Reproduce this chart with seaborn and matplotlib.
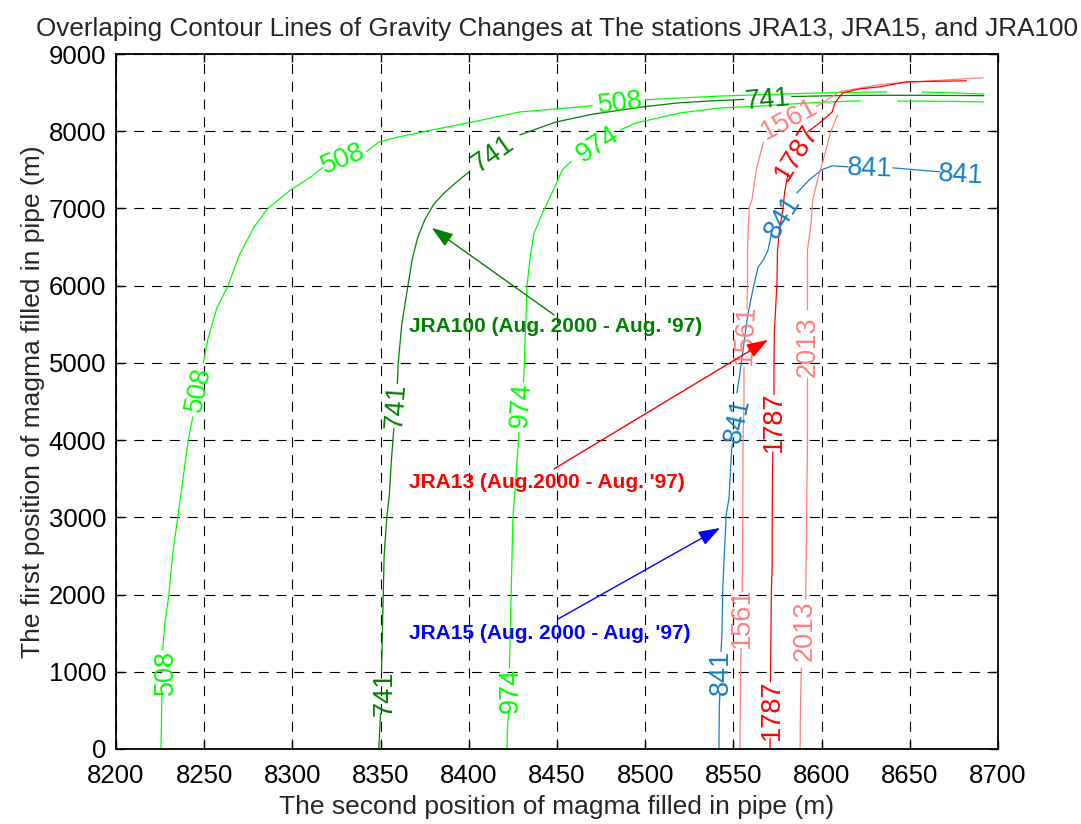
import numpy as np
import pandas as pd
import matplotlib
matplotlib.use("Agg")
import matplotlib.pyplot as plt
import seaborn as sns

nan = np.nan

# Contour paths (second position x, first position y); NaN breaks the line where a level label sits
x_508 = [8225.5, 8225.8, 8226.0, nan, 8226.5, 8227.5, 8230, 8232, 8235, 8238, 8241, 8243.5, nan,
         8249.5, 8252, 8257, 8263.5, 8270, 8278, 8286, 8299, 8310, 8317, nan,
         8342, 8349, 8361, 8380, 8400, 8429, 8450, 8470, nan, 8500, 8542, 8600, 8637, nan, 8657, 8675, 8692]
y_508 = [0, 400, 700, nan, 1280, 1600, 2000, 2500, 3000, 3500, 4000, 4300, nan,
         5000, 5300, 5700, 6000, 6400, 6750, 7000, 7240, 7400, 7526, nan,
         7735, 7860, 7930, 8020, 8110, 8250, 8290, 8330, nan, 8407, 8455, 8497, 8510, nan, 8508, 8495, 8480]

x_741 = [8349.0, 8349.5, 8350.0, nan, 8350.5, 8351, 8351.5, 8352, 8353.5, 8355, 8356, 8357, 8357.5, nan,
         8359.5, 8360, 8362, 8365.5, 8368, 8371, 8375, 8380, 8386, 8393, 8400, nan,
         8429, 8449.5, 8470, 8499, 8520, 8542, 8556, nan, 8583, 8620, 8660, 8692]
y_741 = [0, 250, 460, nan, 1000, 1500, 2000, 2500, 3000, 3300, 3700, 4000, 4150, nan,
         4730, 5000, 5500, 6000, 6350, 6620, 6850, 7050, 7200, 7340, 7470, nan,
         7953, 8120, 8220, 8316, 8370, 8398, 8412, nan, 8450, 8465, 8465, 8460]

x_974 = [8421.6, 8422.0, 8422.5, nan, 8423, 8424, 8425, 8426, 8427, 8428.5, nan,
         8431, 8431.5, 8433, 8435, 8437, 8441, 8444, 8448, 8453, 8458, nan,
         8486, 8495, 8520, 8542, 8560, 8580, 8600, 8622, nan, 8643, 8670, 8692]
y_974 = [0, 300, 480, nan, 1050, 2000, 3000, 3300, 3600, 4100, nan,
         4750, 5000, 6000, 6400, 6680, 6900, 7050, 7240, 7500, 7610, nan,
         8018, 8109, 8238, 8300, 8320, 8348, 8376, 8394, nan, 8390, 8388, 8380]

x_841 = [8541.8, 8542.0, 8542.3, nan, 8543, 8543.5, 8544, 8545, 8546, 8547.5, 8549, 8549.5, nan,
         8552, 8553.7, 8555.5, 8558, 8561, 8564, 8567, 8569.6, 8572, nan,
         8586, 8593, 8600, 8606, 8615, nan, 8640.5, 8667]
y_841 = [0, 500, 700, nan, 1260, 1500, 2085, 2600, 3050, 3240, 3870, 3950, nan,
         4610, 4870, 5170, 5600, 5945, 6240, 6335, 6460, 6720, nan,
         7200, 7370, 7500, 7552, 7539, nan, 7526, 7474]

x_1561 = [8553.7, 8554.0, 8554.3, nan, 8555, 8555.3, 8555.5, 8556, 8556, nan,
          8557.7, 8558, 8558, 8558.5, 8559, 8560.5, 8563, 8567, nan,
          8597, 8603, 8610, 8628.6, 8637, 8660, 8691.5]
y_1561 = [0, 800, 1300, nan, 2030, 3000, 4000, 4500, 4950, nan,
          5700, 6000, 6460, 6800, 7020, 7110, 7500, 7860, nan,
          8316, 8407, 8510, 8588, 8614, 8650, 8692]

x_1787 = [8570.7, 8570.8, nan, 8571, 8571.5, 8572, 8572, 8572.3, nan,
          8573, 8573, 8573.2, 8574.7, 8575, 8576, 8578, 8579, 8581, nan,
          8592, 8599, 8606, 8607.6, 8612, 8622, 8633, 8648, 8682]
y_1787 = [0, 140, nan, 870, 2000, 2400, 3000, 3850, nan,
          4590, 5000, 5390, 6036, 6460, 6700, 6980, 7200, 7460, nan,
          7990, 8110, 8250, 8370, 8497, 8550, 8575, 8640, 8653]

x_2013 = [8587.8, 8588.0, 8588.5, nan, 8591, 8591.5, 8592, 8592, nan,
          8592, 8592, 8594, 8595, 8598, 8601, 8605, 8609]
y_2013 = [0, 500, 1050, nan, 1940, 3000, 4000, 4800, nan,
          5690, 6460, 6800, 7110, 7400, 7630, 7980, 8210]

# Level label placements: (x, y, rotation in degrees)
lab_508 = [(8228.3, 997, 90), (8247, 4650, 78), (8329, 7640, 22), (8486, 8355, 7)]
lab_741 = [(8352, 725, 90), (8358.7, 4443, 86), (8414, 7700, 35), (8569.6, 8410, 5)]
lab_974 = [(8424, 764, 90), (8430, 4456, 86), (8473, 7830, 33)]
lab_841 = [(8543, 997, 90), (8552.6, 4249, 78), (8578, 6891, 58), (8627.4, 7510, -2), (8679, 7430, -3)]
lab_1561 = [(8555, 1697, 90), (8556.6, 5363, 87), (8582, 8150, 28)]
lab_1787 = [(8572, 505, 90), (8573, 4236, 90), (8586, 7725, 58)]
lab_2013 = [(8590.6, 1528, 90), (8592.3, 5207, 90)]

levels = ["508", "741", "974", "841", "1561", "1787", "2013"]
level_colors = {"508": "#00FF00", "741": "#008000", "974": "#00FF00", "841": "#1380C3",
                "1561": "#FF8080", "1787": "#FF0000", "2013": "#FF8080"}

paths = {"508": (x_508, y_508), "741": (x_741, y_741), "974": (x_974, y_974),
         "841": (x_841, y_841), "1561": (x_1561, y_1561), "1787": (x_1787, y_1787),
         "2013": (x_2013, y_2013)}
labels = {"508": lab_508, "741": lab_741, "974": lab_974, "841": lab_841,
          "1561": lab_1561, "1787": lab_1787, "2013": lab_2013}

# Station annotations: text, text anchor (x, y), arrow tail, arrow head
ann_text = ["JRA100 (Aug. 2000 - Aug. '97)", "JRA13 (Aug.2000 - Aug. '97)", "JRA15 (Aug. 2000 - Aug. '97)"]
ann_pos = [(8366, 5466), (8366, 3446), (8366, 1490)]
ann_tail = [(8448.3, 5622), (8448.3, 3627), (8450.6, 1684)]
ann_head = [(8379, 6749), (8569.6, 5298), (8542.4, 2863)]
ann_colors = ["#008000", "#FF0000", "#0000FF"]

# Long-form table: one unit per unbroken piece of each contour
rows = []
seg_id = 0
for lev in levels:
    xs, ys = paths[lev]
    for xv, yv in zip(xs, ys):
        if np.isnan(xv):
            seg_id += 1
            continue
        rows.append({"level": lev, "seg": seg_id, "x": xv, "y": yv})
    seg_id += 1
df = pd.DataFrame(rows)

sns.set_style("white")
plt.rcParams["font.family"] = ["Liberation Sans", "DejaVu Sans"]

fig = plt.figure(figsize=(10.81, 8.24), dpi=100)
ax = fig.add_axes([116 / 1081, 1 - 749 / 824, (998 - 116) / 1081, (749 - 54) / 824])

sns.lineplot(data=df, x="x", y="y", hue="level", units="seg", estimator=None, sort=False,
             palette=level_colors, linewidth=0.9, legend=False, ax=ax)

for lev in levels:
    for lx, ly, rot in labels[lev]:
        ax.text(lx, ly, lev, rotation=rot, rotation_mode="anchor", ha="center", va="center",
                color=level_colors[lev], fontsize=19.5)

for txt, pos, tail, head, col in zip(ann_text, ann_pos, ann_tail, ann_head, ann_colors):
    ax.text(pos[0], pos[1], txt, color=col, fontsize=15, fontweight="bold", ha="left", va="center")
    ax.annotate("", xy=head, xytext=tail,
                arrowprops=dict(arrowstyle="-|>,head_length=1.1,head_width=0.38", color=col,
                                lw=1.0, shrinkA=0, shrinkB=0, mutation_scale=12))

ax.set_xlim(8200, 8700)
ax.set_ylim(0, 9000)
ax.set_xticks(np.arange(8200, 8701, 50))
ax.set_yticks(np.arange(0, 9001, 1000))
ax.grid(True, color="black", linestyle=(0, (9, 7)), linewidth=0.8)
ax.set_axisbelow(True)
for sp in ax.spines.values():
    sp.set_color("black")
    sp.set_linewidth(1.3)
ax.tick_params(direction="in", length=6, width=1, top=True, right=True, bottom=True, left=True,
               labelsize=18.5, colors="black", pad=7)
ax.tick_params(axis="x", pad=10.5)

ax.set_xlabel("The second position of magma filled in pipe (m)", fontsize=19, labelpad=5)
ax.set_ylabel("The first position of magma filled in pipe (m)", fontsize=19, labelpad=3)
ax.set_title("Overlaping Contour Lines of Gravity Changes at The stations JRA13, JRA15, and JRA100",
             fontsize=18.8, pad=13)

fig.savefig("out.png", dpi=100)
